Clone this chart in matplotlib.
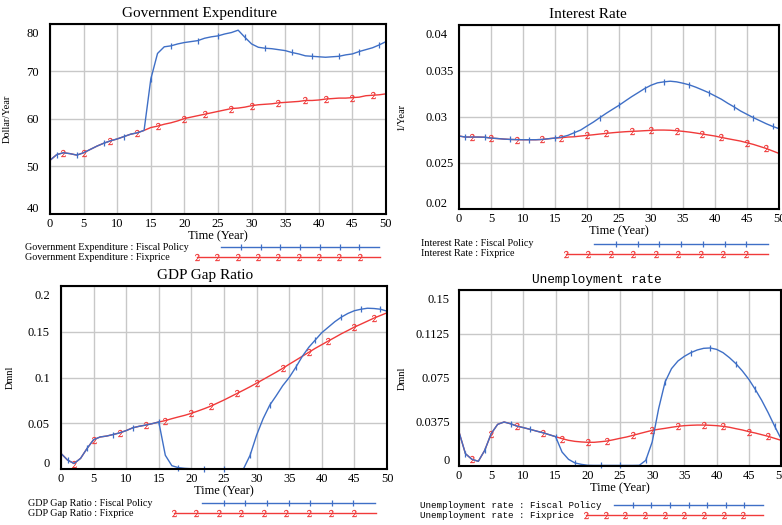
import numpy as np
import matplotlib.pyplot as plt
import matplotlib.transforms as mtransforms

plt.rcParams['font.family'] = 'Liberation Serif'
plt.rcParams['mathtext.fontset'] = 'stix'

years = np.arange(0, 51)

# Government Expenditure (Dollar/Year)
gov_fiscal = [51.3, 52.5, 52.9, 52.7, 52.4, 52.9, 53.6, 54.3, 54.9, 55.4,
              55.8, 56.3, 56.8, 57.1, 57.6, 68.4, 73.8, 75.2, 75.4, 75.8,
              76.1, 76.3, 76.5, 77.0, 77.3, 77.5, 77.9, 78.2, 78.7, 77.2,
              75.8, 75.1, 74.9, 74.8, 74.6, 74.4, 74.0, 73.7, 73.3, 73.2,
              73.1, 73.0, 73.1, 73.2, 73.5, 73.7, 74.2, 74.6, 75.0, 75.6, 76.3]
gov_fix = [51.3, 52.5, 52.9, 52.7, 52.4, 52.9, 53.6, 54.3, 54.9, 55.4,
           55.8, 56.3, 56.8, 57.1, 57.6, 58.2, 58.5, 58.9, 59.2, 59.6,
           60.1, 60.4, 60.7, 61.0, 61.3, 61.6, 61.9, 62.2, 62.3, 62.5,
           62.8, 63.0, 63.1, 63.2, 63.4, 63.5, 63.6, 63.7, 63.9, 63.9,
           64.0, 64.2, 64.3, 64.4, 64.4, 64.5, 64.6, 64.9, 65.0, 65.1, 65.3]

# Interest Rate (1/Year)
ir_fiscal = [0.02793, 0.02782, 0.02782, 0.02782, 0.02780, 0.02771, 0.02766, 0.02760, 0.02756, 0.02754,
             0.02753, 0.02753, 0.02753, 0.02756, 0.02764, 0.02771, 0.02782, 0.02800, 0.02829, 0.02858,
             0.02902, 0.02945, 0.02993, 0.03040, 0.03084, 0.03127, 0.03175, 0.03222, 0.03265, 0.03309,
             0.03345, 0.03371, 0.03382, 0.03389, 0.03382, 0.03367, 0.03349, 0.03324, 0.03295, 0.03265,
             0.03229, 0.03193, 0.03149, 0.03109, 0.03065, 0.03029, 0.02993, 0.02960, 0.02927, 0.02898, 0.02873]
ir_fix = [0.02793, 0.02782, 0.02782, 0.02782, 0.02780, 0.02771, 0.02766, 0.02760, 0.02756, 0.02754,
          0.02753, 0.02753, 0.02753, 0.02756, 0.02764, 0.02771, 0.02775, 0.02782, 0.02785, 0.02793,
          0.02800, 0.02807, 0.02815, 0.02822, 0.02829, 0.02835, 0.02840, 0.02844, 0.02847, 0.02851,
          0.02855, 0.02858, 0.02858, 0.02856, 0.02851, 0.02844, 0.02836, 0.02826, 0.02815, 0.02804,
          0.02793, 0.02778, 0.02764, 0.02751, 0.02738, 0.02720, 0.02702, 0.02680, 0.02658, 0.02631, 0.02604]

# GDP Gap Ratio (Dmnl)
gdp_fiscal = [0.0170, 0.0098, 0.0060, 0.0116, 0.0225, 0.0320, 0.0350, 0.0360, 0.0377, 0.0395,
              0.0420, 0.0450, 0.0467, 0.0480, 0.0496, 0.0514, 0.0150, 0.0036, 0.0015, 0.0007,
              0.0003, 0.0002, 0.0002, 0.0002, 0.0002, 0.0002, 0.0002, 0.0002, 0.0003, 0.0150,
              0.0370, 0.0550, 0.0696, 0.0800, 0.0910, 0.1000, 0.1110, 0.1230, 0.1330, 0.1410,
              0.1490, 0.1550, 0.1610, 0.1660, 0.1700, 0.1730, 0.1746, 0.1757, 0.1754, 0.1746, 0.1725]
gdp_fix = [0.0170, 0.0098, 0.0060, 0.0116, 0.0225, 0.0320, 0.0350, 0.0360, 0.0377, 0.0395,
           0.0420, 0.0450, 0.0467, 0.0480, 0.0496, 0.0514, 0.0529, 0.0550, 0.0569, 0.0587,
           0.0609, 0.0634, 0.0660, 0.0688, 0.0721, 0.0754, 0.0790, 0.0826, 0.0862, 0.0899,
           0.0938, 0.0978, 0.1018, 0.1058, 0.1100, 0.1145, 0.1188, 0.1232, 0.1275, 0.1319,
           0.1359, 0.1399, 0.1438, 0.1478, 0.1514, 0.1551, 0.1583, 0.1616, 0.1649, 0.1678, 0.1707]

# Unemployment rate (Dmnl)
ur_fiscal = [0.0290, 0.0105, 0.0057, 0.0040, 0.0134, 0.0276, 0.0355, 0.0375, 0.0360, 0.0340,
             0.0327, 0.0313, 0.0298, 0.0284, 0.0267, 0.0250, 0.0119, 0.0057, 0.0026, 0.0014,
             0.0006, 0.0005, 0.0005, 0.0005, 0.0005, 0.0005, 0.0005, 0.0005, 0.0006, 0.0048,
             0.0205, 0.0489, 0.0716, 0.0830, 0.0895, 0.0935, 0.0966, 0.0989, 0.1003, 0.1006,
             0.0994, 0.0966, 0.0923, 0.0872, 0.0810, 0.0739, 0.0653, 0.0560, 0.0455, 0.0341, 0.0233]
ur_fix = [0.0290, 0.0105, 0.0057, 0.0040, 0.0134, 0.0276, 0.0355, 0.0375, 0.0360, 0.0340,
          0.0327, 0.0313, 0.0298, 0.0284, 0.0267, 0.0250, 0.0233, 0.0219, 0.0210, 0.0205,
          0.0202, 0.0202, 0.0207, 0.0213, 0.0224, 0.0236, 0.0247, 0.0261, 0.0276, 0.0290,
          0.0304, 0.0313, 0.0321, 0.0330, 0.0338, 0.0344, 0.0347, 0.0349, 0.0349, 0.0347,
          0.0344, 0.0338, 0.0330, 0.0318, 0.0307, 0.0293, 0.0281, 0.0267, 0.0253, 0.0236, 0.0219]

BLUE = '#3f6fc6'
RED = '#f03a3a'
blue_marks = [1, 4, 8, 11, 15, 18, 22, 25, 29, 32, 36, 39, 43, 46, 49]
red_marks = [2, 5, 9, 13, 16, 20, 23, 27, 30, 34, 38, 41, 45, 48]

W, H = 782, 525
fig = plt.figure(figsize=(7.82, 5.25), dpi=100)

RED_MK = dict(marker='$2$', markersize=5, markeredgewidth=0.25)
BLUE_MK = dict(marker='|', markersize=5, markeredgewidth=0.9)


def panel(box, title, ylabel, fiscal, fix, ylim, yticks, yticklabels, mono=False,
          title_x=0, ylab_x=0, tick_pad=8, left_ticks=False, leg_x=None, leg_y=None,
          blue_span=None, red_span=None, name=''):
    x0, y0, x1, y1 = box  # pixel box, top-left origin
    ax = fig.add_axes([x0 / W, 1 - y1 / H, (x1 - x0) / W, (y1 - y0) / H])
    ax.plot(years, fix, color=RED, lw=1.0, markevery=red_marks, clip_on=False, **RED_MK)
    ax.plot(years, fiscal, color=BLUE, lw=1.0, markevery=blue_marks, clip_on=False, **BLUE_MK)
    ax.set_xlim(0, 50)
    ax.set_ylim(*ylim)
    ax.set_xticks(range(0, 51, 5))
    ax.set_yticks(yticks)
    ax.set_yticklabels(yticklabels)
    ax.grid(True, color='#c8c8c8', lw=1.0)
    ax.set_axisbelow(True)
    ax.tick_params(length=0, labelsize=9)
    ax.tick_params(axis='x', pad=3)
    ax.tick_params(axis='y', pad=tick_pad)
    if left_ticks:
        for lab in ax.get_yticklabels():
            lab.set_horizontalalignment('left')
    for s in ax.spines.values():
        s.set_linewidth(1.5)
    tfont = 'Liberation Mono' if mono else 'Liberation Serif'
    ax.set_title(title, fontsize=9.2 if mono else 11, family=tfont, pad=5,
                 x=(title_x - x0) / (x1 - x0))
    ax.set_xlabel('Time (Year)', fontsize=9, labelpad=0)
    ax.set_ylabel(ylabel, fontsize=7.5)
    ax.yaxis.set_label_coords((ylab_x - x0) / (x1 - x0), 0.5)
    # pull the end labels inside the box, like the original tool does
    labs = ax.get_yticklabels()
    labs[-1].set_transform(labs[-1].get_transform() +
                           mtransforms.ScaledTranslation(0, -6 / 72, fig.dpi_scale_trans))
    labs[0].set_transform(labs[0].get_transform() +
                          mtransforms.ScaledTranslation(0, 5 / 72, fig.dpi_scale_trans))

    # legend under the plot
    lfont = 'Liberation Mono' if mono else 'Liberation Serif'
    lsize = 6.6 if mono else 7.3
    fig.text(leg_x / W, 1 - leg_y / H, f'{name} : Fiscal Policy', fontsize=lsize,
             family=lfont, va='center')
    fig.text(leg_x / W, 1 - (leg_y + 10) / H, f'{name} : Fixprice', fontsize=lsize,
             family=lfont, va='center')
    bx = np.linspace(blue_span[0], blue_span[1], 9) / W
    rx = np.linspace(red_span[0], red_span[1], 10) / W
    fig.add_artist(plt.Line2D(bx, [1 - leg_y / H] * len(bx), color=BLUE, lw=1.0,
                              markevery=list(range(1, 8)), transform=fig.transFigure,
                              **BLUE_MK))
    fig.add_artist(plt.Line2D(rx, [1 - (leg_y + 10) / H] * len(rx), color=RED, lw=1.0,
                              markevery=list(range(0, 9)), transform=fig.transFigure,
                              **RED_MK))
    return ax


panel((50, 24, 386, 214), 'Government Expenditure',
      'Dollar/Year', gov_fiscal, gov_fix, (40, 80), [40, 50, 60, 70, 80],
      ['40', '50', '60', '70', '80'], title_x=199, ylab_x=12, tick_pad=8,
      leg_x=25, leg_y=247, blue_span=(221, 379), red_span=(197, 380),
      name='Government Expenditure')

panel((459, 25, 779, 209), 'Interest Rate',
      '1/Year', ir_fiscal, ir_fix, (0.02, 0.04), [0.02, 0.025, 0.03, 0.035, 0.04],
      ['0.02', '0.025', '0.03', '0.035', '0.04'], title_x=588, ylab_x=406,
      tick_pad=24, left_ticks=True,
      leg_x=421, leg_y=244, blue_span=(594, 768), red_span=(566, 768),
      name='Interest Rate')

panel((61, 286, 387, 469), 'GDP Gap Ratio',
      'Dmnl', gdp_fiscal, gdp_fix, (0, 0.2), [0, 0.05, 0.1, 0.15, 0.2],
      ['0', '0.05', '0.1', '0.15', '0.2'], title_x=205, ylab_x=15, tick_pad=8,
      leg_x=28, leg_y=503, blue_span=(202, 375), red_span=(174, 376),
      name='GDP Gap Ratio')

panel((459, 290, 781, 466), 'Unemployment rate',
      'Dmnl', ur_fiscal, ur_fix, (0, 0.15), [0, 0.0375, 0.075, 0.1125, 0.15],
      ['0', '0.0375', '0.075', '0.1125', '0.15'], mono=True, title_x=597,
      ylab_x=407, tick_pad=6.5,
      leg_x=420, leg_y=505, blue_span=(614, 763), red_span=(586, 763),
      name='Unemployment rate')

fig.savefig('out.png', dpi=100)
